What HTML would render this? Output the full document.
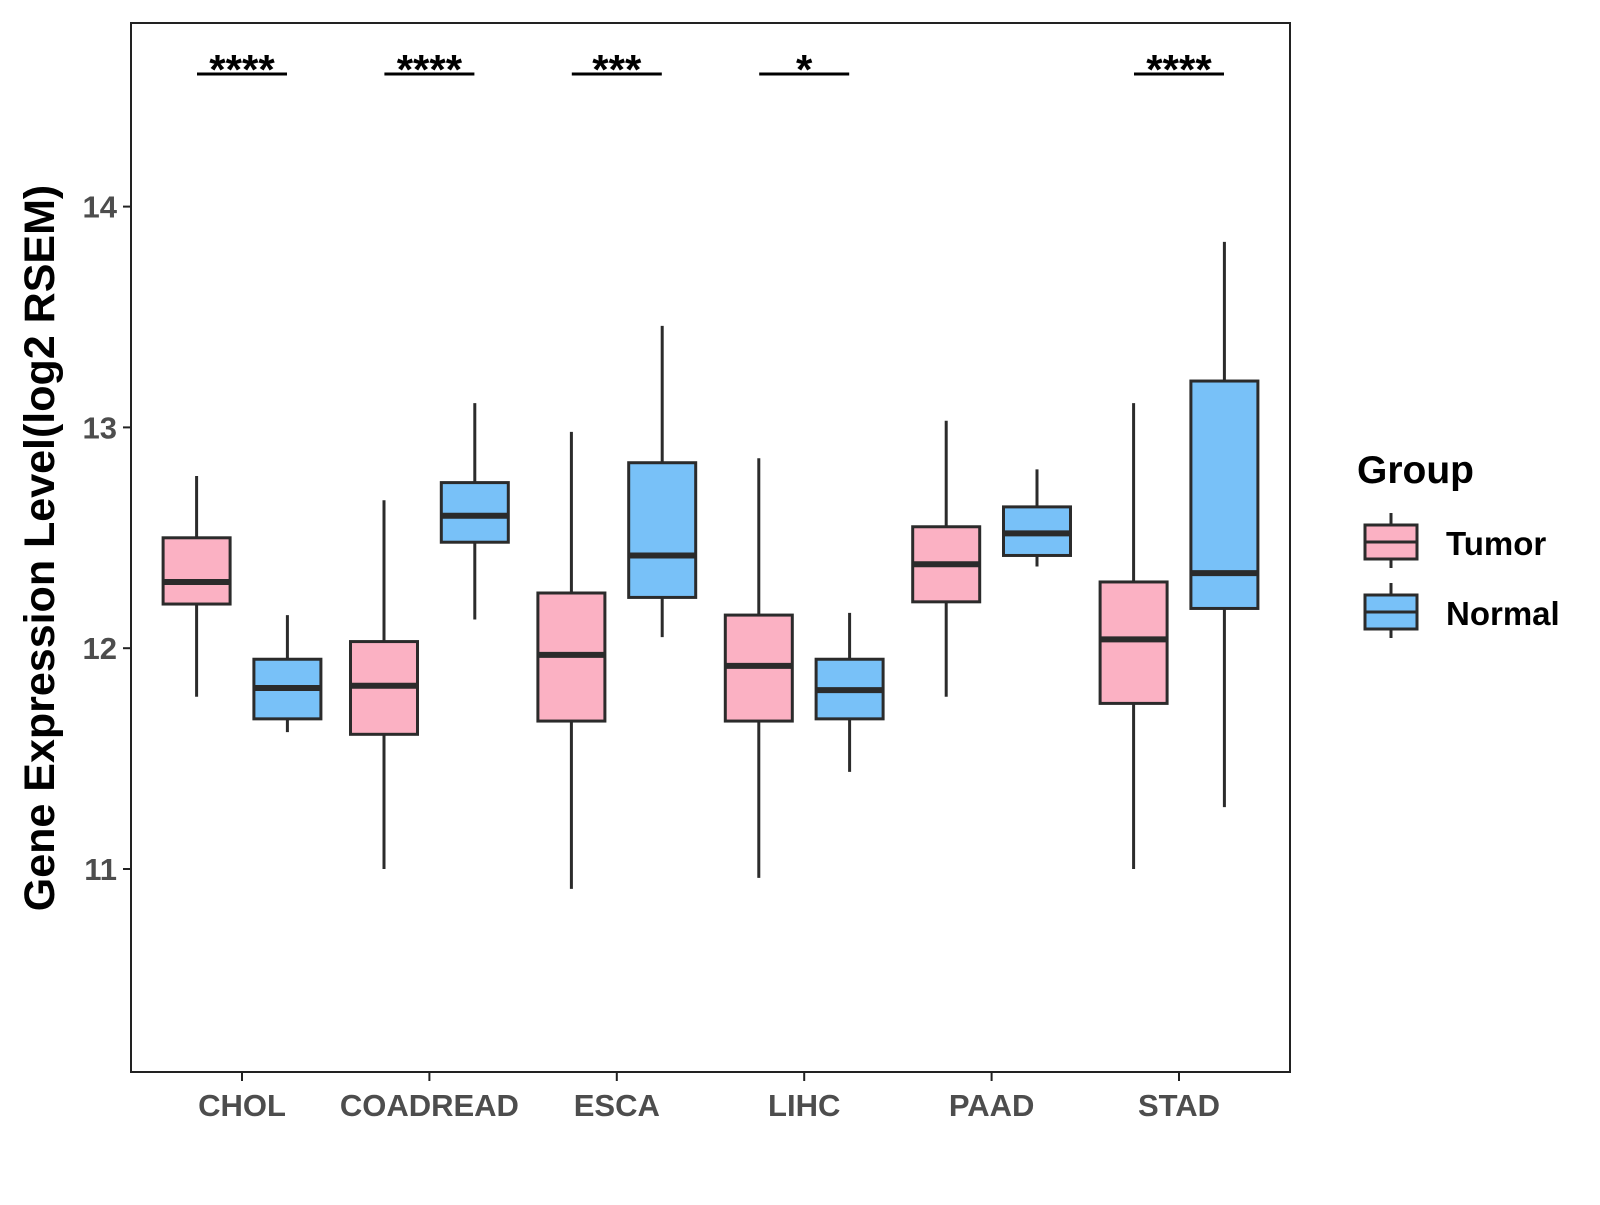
<!DOCTYPE html>
<html><head><meta charset="utf-8"><style>
body{margin:0;background:#fff}
svg text{font-family:"Liberation Sans",Arial,sans-serif;font-weight:bold}
</style></head><body>
<svg id="chart" width="1600" height="1200" viewBox="0 0 1600 1200" xmlns="http://www.w3.org/2000/svg">
<rect x="0" y="0" width="1600" height="1200" fill="#fff"/>
<rect x="131" y="23" width="1159" height="1049" fill="none" stroke="#222" stroke-width="2"/>
<g id="marks"></g>
<text transform="translate(54,548) rotate(-90)" text-anchor="middle" font-size="43" fill="#000">Gene Expression Level(log2 RSEM)</text>
<g>
<text x="1357" y="483" font-size="39" fill="#000">Group</text>
<line x1="1391" y1="513" x2="1391" y2="568" stroke="#2b2b2b" stroke-width="3"/>
<rect x="1365" y="525" width="52" height="34" fill="#FBB1C3" stroke="#2b2b2b" stroke-width="3"/>
<line x1="1365" y1="542" x2="1417" y2="542" stroke="#2b2b2b" stroke-width="3"/>
<text x="1446" y="555" font-size="33" fill="#000">Tumor</text>
<line x1="1391" y1="583" x2="1391" y2="638" stroke="#2b2b2b" stroke-width="3"/>
<rect x="1365" y="595" width="52" height="34" fill="#78C1F8" stroke="#2b2b2b" stroke-width="3"/>
<line x1="1365" y1="612" x2="1417" y2="612" stroke="#2b2b2b" stroke-width="3"/>
<text x="1446" y="625" font-size="33" fill="#000">Normal</text>
</g>
</svg>
<script>
const categories=["CHOL","COADREAD","ESCA","LIHC","PAAD","STAD"];
const tumorMin=[11.78,11.0,10.91,10.96,11.78,11.0];
const tumorQ1=[12.2,11.61,11.67,11.67,12.21,11.75];
const tumorMed=[12.3,11.83,11.97,11.92,12.38,12.04];
const tumorQ3=[12.5,12.03,12.25,12.15,12.55,12.3];
const tumorMax=[12.78,12.67,12.98,12.86,13.03,13.11];
const normalMin=[11.62,12.13,12.05,11.44,12.37,11.28];
const normalQ1=[11.68,12.48,12.23,11.68,12.42,12.18];
const normalMed=[11.82,12.6,12.42,11.81,12.52,12.34];
const normalQ3=[11.95,12.75,12.84,11.95,12.64,13.21];
const normalMax=[12.15,13.11,13.46,12.16,12.81,13.84];
const sigLabels=["****","****","***","*","","****"];
const yTicks=[11,12,13,14];

const NS="http://www.w3.org/2000/svg";
const g=document.getElementById("marks");
function y(v){return 648.2-(v-12)*220.8;}
function xc(i){return 242+i*187.4;}
function el(tag,attrs){const e=document.createElementNS(NS,tag);for(const k in attrs)e.setAttribute(k,attrs[k]);g.appendChild(e);return e;}

yTicks.forEach(t=>{
  const l=el("line",{x1:123,x2:131,y1:y(t),y2:y(t),stroke:"#222","stroke-width":2});
  
  
  const tx=el("text",{x:117,y:y(t)+11,"text-anchor":"end","font-size":31,fill:"#4d4d4d"});
  tx.textContent=t;
  
  
});

function box(cx,mn,q1,md,q3,mx,fill,name){
  const w=67;
  const wl=el("line",{x1:cx,x2:cx,y1:y(mx),y2:y(mn),stroke:"#2b2b2b","stroke-width":3});
  
  
  const r=el("rect",{x:cx-w/2,y:y(q3),width:w,height:y(q1)-y(q3),fill:fill,stroke:"#2b2b2b","stroke-width":3});
  
  
  const m=el("line",{x1:cx-w/2,x2:cx+w/2,y1:y(md),y2:y(md),stroke:"#2b2b2b","stroke-width":6});
  
  
}

categories.forEach((c,i)=>{
  const cx=xc(i);
  const tk=el("line",{x1:cx,x2:cx,y1:1072,y2:1081,stroke:"#222","stroke-width":2});
  
  
  const tx=el("text",{x:cx,y:1116,"text-anchor":"middle","font-size":31,fill:"#4d4d4d"});
  tx.textContent=c;
  
  
  box(cx-45.4,tumorMin[i],tumorQ1[i],tumorMed[i],tumorQ3[i],tumorMax[i],"#FBB1C3","tumor-"+c.toLowerCase());
  box(cx+45.4,normalMin[i],normalQ1[i],normalMed[i],normalQ3[i],normalMax[i],"#78C1F8","normal-"+c.toLowerCase());
  if(sigLabels[i]){
    const b=el("line",{x1:cx-45,x2:cx+45,y1:74,y2:74,stroke:"#000","stroke-width":3});
    
    
    const s=el("text",{x:cx,y:84,"text-anchor":"middle","font-size":42,fill:"#000"});
    s.textContent=sigLabels[i];
    
    
  }
});
</script>
</body></html>
